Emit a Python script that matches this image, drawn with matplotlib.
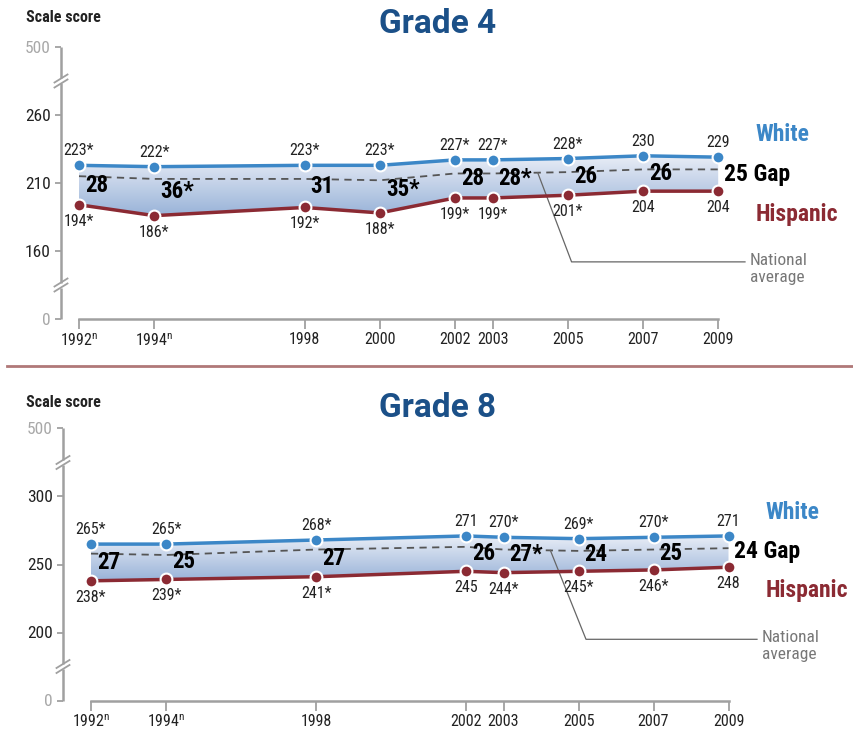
import numpy as np
import matplotlib
matplotlib.use('Agg')
import matplotlib.pyplot as plt
from matplotlib.colors import LinearSegmentedColormap
from matplotlib.lines import Line2D
from matplotlib.transforms import IdentityTransform

plt.rcParams['font.family'] = ['Roboto Condensed', 'DejaVu Sans']
plt.rcParams['mathtext.default'] = 'regular'

# Grade 4 data
g4_years = [1992, 1994, 1998, 2000, 2002, 2003, 2005, 2007, 2009]
g4_white = [223, 222, 223, 223, 227, 227, 228, 230, 229]
g4_hisp = [194, 186, 192, 188, 199, 199, 201, 204, 204]
g4_nat = [215, 213, 213, 212, 217, 217, 218, 220, 220]
g4_white_lbl = ['223*', '222*', '223*', '223*', '227*', '227*', '228*', '230', '229']
g4_hisp_lbl = ['194*', '186*', '192*', '188*', '199*', '199*', '201*', '204', '204']
g4_gap_lbl = ['28', '36*', '31', '35*', '28', '28*', '26', '26', '25']
g4_xlabels = ['1992$^{n}$', '1994$^{n}$', '1998', '2000', '2002', '2003', '2005', '2007', '2009']
g4_ylabels = ['0', '160', '210', '260', '500']

# Grade 8 data
g8_years = [1992, 1994, 1998, 2002, 2003, 2005, 2007, 2009]
g8_white = [265, 265, 268, 271, 270, 269, 270, 271]
g8_hisp = [238, 239, 241, 245, 244, 245, 246, 248]
g8_nat = [258, 257, 261, 263, 261, 260, 261, 262]
g8_white_lbl = ['265*', '265*', '268*', '271', '270*', '269*', '270*', '271']
g8_hisp_lbl = ['238*', '239*', '241*', '245', '244*', '245*', '246*', '248']
g8_gap_lbl = ['27', '25', '27', '26', '27*', '24', '25', '24']
g8_xlabels = ['1992$^{n}$', '1994$^{n}$', '1998', '2002', '2003', '2005', '2007', '2009']
g8_ylabels = ['0', '200', '250', '300', '500']

W, H = 854, 729
blue = '#3c87c7'
red = '#8b2a33'
title_col = '#1b5088'
grad = LinearSegmentedColormap.from_list('band', ['#98b2d8', '#e8edf6'])

fig = plt.figure(figsize=(W / 100, H / 100), dpi=100)
fig.patch.set_facecolor('white')


def panel(title, title_y, years, white, hisp, nat, wl, hl, gl, xl, yl,
          spine_x, x0_px, ppy, bottom_px, top_px, right_px, lead_x, lead_corner):
    ppu = 1.36
    mid = [int(v) for v in yl[1:4]]
    step = mid[1] - mid[0]
    ypos = [mid[0] - step] + mid + [mid[2] + step]
    ax = fig.add_axes([spine_x / W, 1 - bottom_px / H, (right_px - spine_x) / W, (bottom_px - top_px) / H])
    ax.set_facecolor('none')
    xmin = years[0] - (x0_px - spine_x) / ppy
    xmax = years[0] + (right_px - x0_px) / ppy
    ymin = ypos[0]
    ymax = ymin + (bottom_px - top_px) / ppu

    # gradient band between the two lines
    band = ax.fill_between(years, hisp, white, facecolor='none', edgecolor='none')
    gimg = np.linspace(0, 1, 256).reshape(-1, 1)
    im = ax.imshow(gimg, extent=[years[0], years[-1], min(hisp), max(white)], origin='lower',
                   aspect='auto', cmap=grad, zorder=1)
    im.set_clip_path(band.get_paths()[0], transform=ax.transData)

    ax.plot(years, nat, color='#555555', lw=1.3, dashes=(4, 3), zorder=2)
    ax.plot(years, white, color=blue, lw=2.5, zorder=3, marker='o', ms=8.5,
            mfc=blue, mec='white', mew=1.5)
    ax.plot(years, hisp, color=red, lw=2.5, zorder=3, marker='o', ms=8.5,
            mfc=red, mec='white', mew=1.5)

    for i, x in enumerate(years):
        ax.annotate(wl[i], (x, white[i]), xytext=(0, 7), textcoords='offset pixels',
                    ha='center', va='bottom', fontsize=11.5, color='#222222', zorder=5)
        ax.annotate(hl[i], (x, hisp[i]), xytext=(0, -9), textcoords='offset pixels',
                    ha='center', va='top', fontsize=11.5, color='#222222', zorder=5)
        g = gl[i] + (' Gap' if i == len(years) - 1 else '')
        ax.annotate(g, (x, (white[i] + hisp[i]) / 2), xytext=(6, 0), textcoords='offset pixels',
                    ha='left', va='center', fontsize=17 if i == len(years) - 1 else 16.5,
                    fontweight='bold', color='black', zorder=5)

    ax.annotate('White', (years[-1], white[-1]), xytext=(37, 23), textcoords='offset pixels',
                ha='left', va='center', fontsize=17, fontweight='bold', color=blue)
    ax.annotate('Hispanic', (years[-1], hisp[-1]), xytext=(37, -23), textcoords='offset pixels',
                ha='left', va='center', fontsize=17, fontweight='bold', color=red)

    # national average leader
    ly = np.interp(lead_x, years, nat)
    cx, cy = lead_corner
    ax.plot([lead_x, cx, xmax], [ly, cy, cy], color='#666666', lw=0.9, zorder=2, clip_on=False)
    ax.text(xmax + 5 / ppy, cy - 7 / ppu, 'National\naverage', ha='left', va='center',
            fontsize=12.5, color='#777777', linespacing=1.15)

    ax.set_xlim(xmin, xmax)
    ax.set_ylim(ymin, ymax)

    for s in ['top', 'right', 'left']:
        ax.spines[s].set_visible(False)
    ax.spines['bottom'].set_bounds(years[0], years[-1])
    ax.spines['bottom'].set_color('#a0a0a0')
    ax.spines['bottom'].set_linewidth(1.8)
    ax.set_xticks(years)
    ax.set_xticklabels(xl, fontsize=11.5, color='#222222')
    ax.tick_params(axis='x', length=7.5, width=1.3, color='#a0a0a0', pad=2)
    ax.set_yticks(ypos)
    ax.set_yticklabels(yl, fontsize=12.5)
    for t, lab in zip(ax.get_yticklabels(), yl):
        t.set_color('#a8a8a8' if lab in ('0', '500') else '#222222')
    ax.tick_params(axis='y', length=4.5, width=1.3, color='#a0a0a0', pad=3)

    # left axis with two breaks
    b1 = (ypos[0] + ypos[1]) / 2
    b2 = (ypos[3] + ypos[4]) / 2
    gap = 2.5 / ppu
    ya = ax.get_yaxis_transform()
    for lo, hi in [(ypos[0], b1 - gap), (b1 + gap, b2 - gap), (b2 + gap, ypos[4])]:
        ax.plot([0, 0], [lo, hi], transform=ya, color='#a0a0a0', lw=1.8, clip_on=False,
                solid_capstyle='butt')
    for b in (b1, b2):
        px, py = ax.transData.transform((xmin, b))
        for dy in (-2.5, 2.5):
            fig.add_artist(Line2D([px - 6.5, px + 6.5], [py + dy - 4, py + dy + 4],
                                  transform=IdentityTransform(), color='#a0a0a0', lw=1.3))

    fig.text(438 / W, 1 - title_y / H, title, ha='center', va='center', fontsize=24,
             fontweight='bold', color=title_col, family=['Roboto', 'DejaVu Sans'])
    fig.text(26 / W, 1 - (title_y - 6) / H, 'Scale score', ha='left', va='center',
             fontsize=11.5, fontweight='bold', color='#222222')
    return ax


panel('Grade 4', 24, g4_years, g4_white, g4_hisp, g4_nat, g4_white_lbl, g4_hisp_lbl,
      g4_gap_lbl, g4_xlabels, g4_ylabels,
      spine_x=61, x0_px=79, ppy=37.6, bottom_px=319, top_px=40, right_px=745,
      lead_x=2004.2, lead_corner=(2005.1, 152))

panel('Grade 8', 408, g8_years, g8_white, g8_hisp, g8_nat, g8_white_lbl, g8_hisp_lbl,
      g8_gap_lbl, g8_xlabels, g8_ylabels,
      spine_x=63, x0_px=91, ppy=37.5, bottom_px=700.5, top_px=421, right_px=757,
      lead_x=2004.25, lead_corner=(2005.2, 195))

# separator between the panels
fig.add_artist(Line2D([7 / W, 1], [1 - 366 / H, 1 - 366 / H], transform=fig.transFigure,
                      color='#b07878', lw=2))

fig.savefig('out.png', dpi=100)
